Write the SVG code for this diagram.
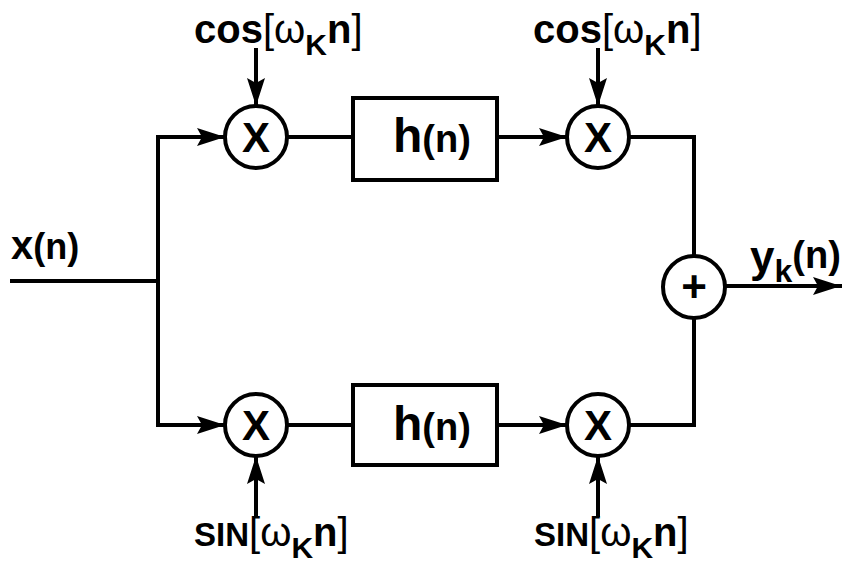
<svg xmlns="http://www.w3.org/2000/svg" width="862" height="572" viewBox="0 0 862 572">
<style>
.ln{fill:none;stroke:#000;stroke-width:4;stroke-linecap:square}
.nd{fill:#fff;stroke:#000;stroke-width:4}
.t{font-family:"Liberation Sans","DejaVu Sans",sans-serif;font-weight:bold;fill:#000}
.br{font-weight:normal}
</style>
<defs>
<marker id="ah" viewBox="0 0 28 20" refX="27" refY="10" markerWidth="28" markerHeight="20" markerUnits="userSpaceOnUse" orient="auto">
<path d="M0,1 L28,10 L0,19 L5,10 Z" fill="#000"/>
</marker>
</defs>
<rect width="862" height="572" fill="#fff"/>
<g id="connectors">
<path class="ln" d="M12,281 H158"/>
<path class="ln" d="M158,137 V425"/>
<path class="ln" d="M158,137 H224" marker-end="url(#ah)"/>
<path class="ln" d="M158,425 H224" marker-end="url(#ah)"/>
<path class="ln" d="M287,137 H353"/>
<path class="ln" d="M287,425 H353"/>
<path class="ln" d="M497,137 H566" marker-end="url(#ah)"/>
<path class="ln" d="M497,425 H566" marker-end="url(#ah)"/>
<path class="ln" d="M629,137 H694 V255"/>
<path class="ln" d="M629,425 H694 V318"/>
<path class="ln" d="M725,286 H840" marker-end="url(#ah)"/>
<path class="ln" d="M256,50 V105" marker-end="url(#ah)"/>
<path class="ln" d="M598,50 V105" marker-end="url(#ah)"/>
<path class="ln" d="M256,515 V457" marker-end="url(#ah)"/>
<path class="ln" d="M598,515 V457" marker-end="url(#ah)"/>
</g>
<g id="mul1"><circle class="nd" cx="256" cy="137" r="31"/><text class="t" x="256" y="152" font-size="42" text-anchor="middle">X</text></g>
<g id="mul2"><circle class="nd" cx="598" cy="137" r="31"/><text class="t" x="598" y="152" font-size="42" text-anchor="middle">X</text></g>
<g id="mul3"><circle class="nd" cx="256" cy="425" r="31"/><text class="t" x="256" y="440" font-size="42" text-anchor="middle">X</text></g>
<g id="mul4"><circle class="nd" cx="598" cy="425" r="31"/><text class="t" x="598" y="440" font-size="42" text-anchor="middle">X</text></g>
<g id="h1"><rect class="nd" x="353" y="98" width="144" height="82"/><text class="t" x="393" y="152" font-size="48">h<tspan font-size="38">(n)</tspan></text></g>
<g id="h2"><rect class="nd" x="353" y="385" width="144" height="80"/><text class="t" x="393" y="440" font-size="48">h<tspan font-size="38">(n)</tspan></text></g>
<g id="sum"><circle class="nd" cx="694" cy="287" r="31"/><text class="t" x="694" y="302" font-size="44" text-anchor="middle">+</text></g>
<g id="labels">
<text class="t" x="11" y="259" font-size="40">x<tspan font-size="36">(n)</tspan></text>
<text class="t" x="750" y="272" font-size="44">y<tspan font-size="32" dy="10">k</tspan><tspan font-size="38" dy="-14">(n)</tspan></text>
<text class="t" x="194" y="43" font-size="40">cos<tspan class="br">[</tspan><tspan class="br">ω</tspan><tspan font-size="30" dy="12">K</tspan><tspan dy="-12">n</tspan><tspan class="br">]</tspan></text>
<text class="t" x="533" y="43" font-size="40">cos<tspan class="br">[</tspan><tspan class="br">ω</tspan><tspan font-size="30" dy="12">K</tspan><tspan dy="-12">n</tspan><tspan class="br">]</tspan></text>
<text class="t" x="194" y="546" font-size="33">SIN<tspan class="br" font-size="40">[</tspan><tspan class="br" font-size="40">ω</tspan><tspan font-size="30" dy="12">K</tspan><tspan font-size="40" dy="-12">n</tspan><tspan class="br" font-size="40">]</tspan></text>
<text class="t" x="534" y="546" font-size="33">SIN<tspan class="br" font-size="40">[</tspan><tspan class="br" font-size="40">ω</tspan><tspan font-size="30" dy="12">K</tspan><tspan font-size="40" dy="-12">n</tspan><tspan class="br" font-size="40">]</tspan></text>
</g>
</svg>
